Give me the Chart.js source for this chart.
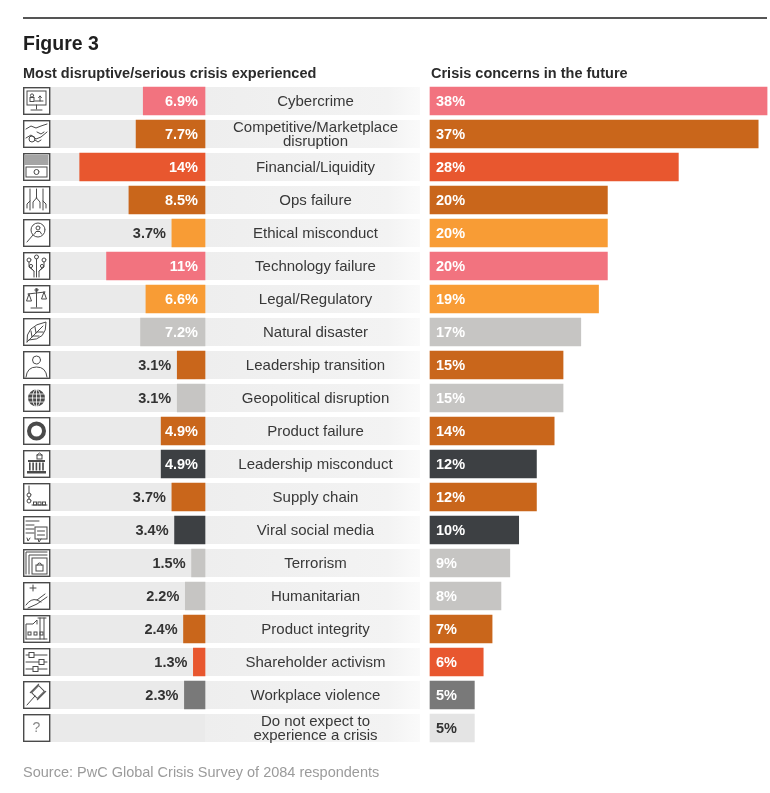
<!DOCTYPE html>
<html>
<head>
<meta charset="utf-8">
<script src="https://cdn.jsdelivr.net/npm/chart.js@4.4.1/dist/chart.umd.min.js"></script>
<style>
  body { margin: 0; background: #fff; font-family: "Liberation Sans", Arial, Helvetica, sans-serif; }
  #wrap { position: relative; width: 770px; height: 793px; overflow: hidden; }
  #chart { position: absolute; left: 0; top: 0; }
  .rule { position: absolute; left: 23px; top: 17px; width: 744px; height: 2px; background: #555; }
  .title { position: absolute; left: 23px; top: 33px; font-size: 19.5px; line-height: 20px; font-weight: bold; color: #1f1f1f; }
  .sub { position: absolute; top: 66px; font-size: 14.5px; line-height: 15px; font-weight: bold; color: #2b2b2b; }
  .source { position: absolute; left: 23px; top: 764px; font-size: 14.5px; line-height: 16px; color: #9b9b9b; }
</style>
</head>
<body>
<div id="wrap">
  <canvas id="chart" width="770" height="793"></canvas>
  <div class="rule"></div>
  <div class="title">Figure 3</div>
  <div class="sub" style="left:23px">Most disruptive/serious crisis experienced</div>
  <div class="sub" style="left:431px">Crisis concerns in the future</div>
  <div class="source">Source: PwC Global Crisis Survey of 2084 respondents</div>
</div>
<script>
// data
var categories = [
  'Cybercrime',
  ['Competitive/Marketplace', 'disruption'],
  'Financial/Liquidity',
  'Ops failure',
  'Ethical misconduct',
  'Technology failure',
  'Legal/Regulatory',
  'Natural disaster',
  'Leadership transition',
  'Geopolitical disruption',
  'Product failure',
  'Leadership misconduct',
  'Supply chain',
  'Viral social media',
  'Terrorism',
  'Humanitarian',
  'Product integrity',
  'Shareholder activism',
  'Workplace violence',
  ['Do not expect to', 'experience a crisis']
];
var experienced = [6.9, 7.7, 14, 8.5, 3.7, 11, 6.6, 7.2, 3.1, 3.1, 4.9, 4.9, 3.7, 3.4, 1.5, 2.2, 2.4, 1.3, 2.3, null];
var future = [38, 37, 28, 20, 20, 20, 19, 17, 15, 15, 14, 12, 12, 10, 9, 8, 7, 6, 5, 5];

const PINK = '#f2737f', DKORANGE = '#c9661b', RED = '#e8572f', YELLOW = '#f89c35',
      LTGRAY = '#c6c5c3', CHARCOAL = '#3d4043', MIDGRAY = '#797979', PALE = '#e4e4e4';
var barColors = [PINK, DKORANGE, RED, DKORANGE, YELLOW, PINK, YELLOW, LTGRAY, DKORANGE, LTGRAY,
                 DKORANGE, CHARCOAL, DKORANGE, CHARCOAL, LTGRAY, LTGRAY, DKORANGE, RED, MIDGRAY, PALE];

// geometry
const AREA_L = 23, AREA_R = 768;
const ZERO_L = 205, PX_L = 8.95;
const ZERO_R = 430, PX_R = 8.87;
const ROW_H = 28;
const FONT = '"Liberation Sans", Arial, Helvetica, sans-serif';

function drawIcon(c, i, x, y) {
  c.save();
  c.translate(x, y);
  c.fillStyle = '#fff';
  c.fillRect(0, 0, 27, 28);
  c.strokeStyle = '#4a4a4a';
  c.fillStyle = '#4a4a4a';
  c.lineWidth = 1.4;
  c.strokeRect(0.7, 0.7, 26, 26.6);
  c.lineWidth = 1;
  c.lineCap = 'round';
  var L = function () {
    var a = arguments;
    c.beginPath();
    c.moveTo(a[0], a[1]);
    for (var k = 2; k < a.length; k += 2) c.lineTo(a[k], a[k + 1]);
    c.stroke();
  };
  var O = function (cx, cy, r, fill) {
    c.beginPath();
    c.arc(cx, cy, r, 0, Math.PI * 2);
    if (fill) c.fill(); else c.stroke();
  };
  switch (i) {
    case 0: // monitor
      c.strokeRect(4, 4, 19, 14); L(13.5, 18, 13.5, 22); L(8, 23, 19, 23);
      O(9, 8.5, 1.6); c.strokeRect(7, 10.5, 4, 4); L(12, 14, 20, 14); L(17, 9, 17, 14); L(15.5, 10.5, 17, 9, 18.5, 10.5);
      break;
    case 1: // handshake
      L(3, 9, 8, 6, 13, 8, 18, 6, 24, 4);
      L(3, 18, 8, 15, 13, 19, 18, 17, 24, 12);
      c.beginPath(); c.arc(9, 19, 3, 0, Math.PI * 2); c.stroke();
      L(12, 20, 15, 22, 18, 20); L(14, 12, 18, 14, 21, 12);
      break;
    case 2: // banknote
      for (var k = 0; k < 5; k++) L(2, 3 + k * 2, 25, 3 + k * 2);
      c.strokeRect(3, 14, 21, 10); O(13.5, 19, 2.5);
      break;
    case 3: // ops
      L(7, 3, 7, 24); L(20, 3, 20, 24); L(13.5, 3, 13.5, 12);
      L(13.5, 12, 10, 16, 10, 22); L(13.5, 12, 17, 16, 17, 22);
      L(4, 22, 4, 18, 7, 15); L(23, 22, 23, 18, 20, 15);
      break;
    case 4: // magnifier + person
      O(15, 11, 7); O(15, 9, 2); L(11.5, 15, 13, 12.5, 17, 12.5, 18.5, 15);
      L(10, 16, 4, 23);
      break;
    case 5: // circuit tree
      O(6, 8, 2); O(13.5, 5, 2); O(21, 8, 2); O(8, 14, 1.6); O(19, 14, 1.6);
      L(6, 10, 6, 15, 11, 19, 11, 25); L(13.5, 7, 13.5, 25); L(21, 10, 21, 15, 16, 19, 16, 25); L(8, 16, 11, 19); L(19, 16, 16, 19);
      break;
    case 6: // scales
      L(13.5, 4, 13.5, 22); L(8, 23, 19, 23); L(5, 9, 22, 7);
      L(6, 9, 3.5, 16, 8.5, 16, 6, 9); L(21, 7, 18.5, 14, 23.5, 14, 21, 7); O(13.5, 5, 1.5);
      break;
    case 7: // leaf
      c.beginPath(); c.moveTo(4, 24); c.quadraticCurveTo(2, 8, 23, 4); c.quadraticCurveTo(24, 22, 6, 22); c.stroke();
      L(4, 24, 20, 8); L(9, 19, 8, 13); L(13, 15, 12, 9); L(10, 18, 16, 18); L(14, 14, 20, 14);
      break;
    case 8: // person
      O(13.5, 9, 4); c.beginPath(); c.moveTo(3, 26); c.quadraticCurveTo(4, 16, 13.5, 16); c.quadraticCurveTo(23, 16, 24, 26); c.stroke();
      break;
    case 9: // globe
      O(13.5, 14, 8.5, true);
      c.strokeStyle = '#fff'; c.lineWidth = 0.8;
      L(5, 14, 22, 14); L(6.5, 10, 20.5, 10); L(6.5, 18, 20.5, 18); L(13.5, 5.5, 13.5, 22.5);
      c.beginPath(); c.ellipse(13.5, 14, 4, 8.5, 0, 0, Math.PI * 2); c.stroke();
      break;
    case 10: // ring
      c.lineWidth = 4; O(13.5, 14, 7.5);
      break;
    case 11: // building
      c.fillRect(5, 10, 17, 2); c.fillRect(4, 21, 19, 2.5);
      for (var k = 0; k < 5; k++) c.fillRect(6 + k * 3.3, 12.5, 1.6, 8);
      c.strokeRect(14, 5, 5, 4); L(14, 5, 16.5, 3, 19, 5);
      break;
    case 12: // supply chain
      L(6, 3, 6, 10); O(6, 12, 2); O(6, 18, 2); L(6, 14, 6, 16);
      L(9, 22, 24, 22); c.strokeRect(10.5, 19, 3, 3); c.strokeRect(15, 19, 3, 3); c.strokeRect(19.5, 19, 3, 3);
      break;
    case 13: // speech bubbles
      L(3, 5, 16, 5); L(3, 9, 11, 9); L(3, 13, 11, 13); L(3, 17, 11, 17);
      c.strokeRect(12, 11, 12, 12); L(14.5, 15, 21.5, 15); L(14.5, 19, 21.5, 19);
      L(4, 22, 5, 25, 7, 22); L(15, 23, 16, 26, 18, 23);
      break;
    case 14: // nested frames with lock
      L(3, 25, 3, 3, 24, 3); L(6, 25, 6, 6, 24, 6); c.strokeRect(9, 9, 15, 16);
      c.strokeRect(13, 16, 7, 6); c.beginPath(); c.arc(16.5, 16, 2, Math.PI, 0); c.stroke();
      break;
    case 15: // hand with plus
      L(10, 3, 10, 9); L(7, 6, 13, 6);
      c.beginPath(); c.moveTo(3, 23); c.quadraticCurveTo(8, 16, 14, 18); c.lineTo(22, 12); c.stroke();
      L(5, 26, 14, 22, 24, 15); L(14, 18, 18, 20);
      break;
    case 16: // factory
      L(3, 24, 3, 9, 10, 9, 14, 5, 14, 9); L(17, 24, 17, 3); L(21, 24, 21, 3); L(15, 3, 23, 3);
      L(3, 24, 24, 24);
      c.strokeRect(5, 17, 3, 3); c.strokeRect(11, 17, 3, 3); c.strokeRect(17, 17, 3, 3);
      break;
    case 17: // sliders
      L(3, 7, 24, 7); L(3, 14, 24, 14); L(3, 21, 24, 21);
      c.fillStyle = '#fff';
      c.fillRect(6, 4.5, 5, 5); c.strokeRect(6, 4.5, 5, 5);
      c.fillRect(16, 11.5, 5, 5); c.strokeRect(16, 11.5, 5, 5);
      c.fillRect(10, 18.5, 5, 5); c.strokeRect(10, 18.5, 5, 5);
      break;
    case 18: // gavel
      c.save(); c.translate(15, 11); c.rotate(-Math.PI / 4);
      c.strokeRect(-5, -4, 10, 8); L(-6, -5, 6, -5); L(-6, 5, 6, 5); c.restore();
      L(12, 15, 4, 24);
      break;
    case 19: // question mark
      c.font = '14px ' + FONT; c.fillStyle = '#888'; c.textAlign = 'center'; c.textBaseline = 'middle';
      c.fillText('?', 13.5, 14.5);
      break;
  }
  c.restore();
}

var rowsPlugin = {
  id: 'rows',
  beforeDatasetsDraw: function (chart) {
    var c = chart.ctx, y = chart.scales.y, xl = chart.scales.xL, xr = chart.scales.xR;
    var zl = xl.getPixelForValue(0), zr = xr.getPixelForValue(0);
    c.save();
    categories.forEach(function (cat, i) {
      var cy = y.getPixelForValue(i), top = cy - ROW_H / 2;
      c.fillStyle = '#eaeaea';
      c.fillRect(50, top, zl - 50, ROW_H);
      var g = c.createLinearGradient(zl, 0, zr - 10, 0);
      g.addColorStop(0, '#eeeeee');
      g.addColorStop(0.85, '#f3f3f3');
      g.addColorStop(1, '#fafafa');
      c.fillStyle = g;
      c.fillRect(zl, top, zr - 10 - zl, ROW_H);
      drawIcon(c, i, 23, top);
    });
    c.restore();
  },
  afterDatasetsDraw: function (chart) {
    var c = chart.ctx, y = chart.scales.y;
    var zl = chart.scales.xL.getPixelForValue(0), zr = chart.scales.xR.getPixelForValue(0);
    var left = chart.getDatasetMeta(0).data, right = chart.getDatasetMeta(1).data;
    var mid = (zl + zr - 10) / 2 + 3;
    c.save();
    c.textBaseline = 'middle';
    categories.forEach(function (cat, i) {
      var cy = y.getPixelForValue(i);
      // category label
      c.font = '15px ' + FONT;
      c.fillStyle = '#383838';
      c.textAlign = 'center';
      if (Array.isArray(cat)) {
        c.fillText(cat[0], mid, cy - 6.5);
        c.fillText(cat[1], mid, cy + 8);
      } else {
        c.fillText(cat, mid, cy + 0.5);
      }
      c.font = 'bold 14.5px ' + FONT;
      // left values
      var v = experienced[i];
      if (v !== null) {
        var bar = left[i];
        c.textAlign = 'right';
        if (v >= 4) {
          c.fillStyle = '#fff';
          c.fillText(v + '%', bar.base - 7, cy + 0.5);
        } else {
          c.fillStyle = '#333';
          c.fillText(v + '%', bar.x - 6, cy + 0.5);
        }
      }
      // right values
      c.textAlign = 'left';
      c.fillStyle = i === categories.length - 1 ? '#333' : '#fff';
      c.fillText(future[i] + '%', right[i].base + 6, cy + 0.5);
    });
    c.restore();
  }
};

var ctx = document.getElementById('chart');
var crisisChart = new Chart(ctx, {
  type: 'bar',
  data: {
    labels: categories,
    datasets: [
      {
        label: 'Most disruptive/serious crisis experienced',
        data: experienced,
        xAxisID: 'xL',
        backgroundColor: barColors,
        barThickness: ROW_H,
        grouped: false
      },
      {
        label: 'Crisis concerns in the future',
        data: future,
        xAxisID: 'xR',
        backgroundColor: barColors,
        barThickness: ROW_H,
        grouped: false
      }
    ]
  },
  options: {
    indexAxis: 'y',
    responsive: false,
    animation: false,
    devicePixelRatio: 1,
    layout: { padding: { left: AREA_L, right: 770 - AREA_R, top: 84.5, bottom: 48.5 } },
    scales: {
      y: { display: false },
      xL: {
        type: 'linear', axis: 'x', reverse: true, display: false,
        min: -(AREA_R - ZERO_L) / PX_L, max: (ZERO_L - AREA_L) / PX_L
      },
      xR: {
        type: 'linear', axis: 'x', display: false,
        min: -(ZERO_R - AREA_L) / PX_R, max: (AREA_R - ZERO_R) / PX_R
      }
    },
    plugins: {
      legend: { display: false },
      tooltip: { enabled: false }
    }
  },
  plugins: [rowsPlugin]
});
</script>
</body>
</html>
